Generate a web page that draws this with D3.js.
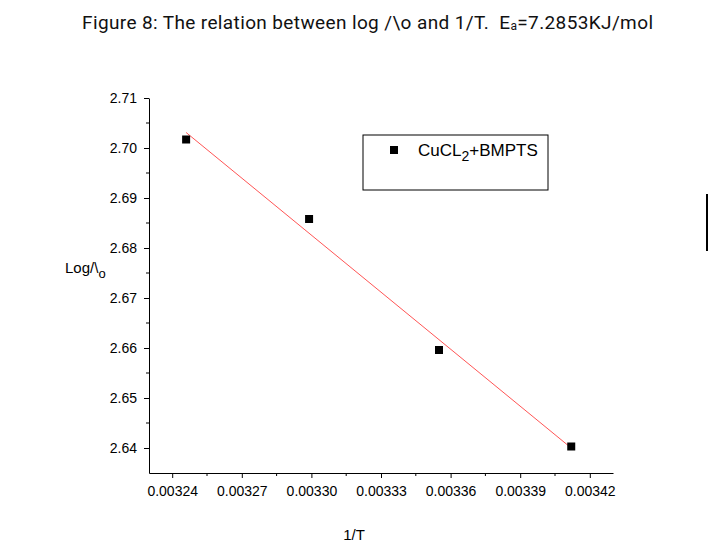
<!DOCTYPE html>
<html>
<head>
<meta charset="utf-8">
<script src="https://cdn.jsdelivr.net/npm/d3@7"></script>
<style>
  body { margin: 0; background: #fff; }
  svg { display: block; font-family: Arial, "Liberation Sans", sans-serif; }
</style>
</head>
<body>
<svg width="728" height="549"></svg>
<script>

// values
const invT = [0.003246, 0.003299, 0.003355, 0.003412];
const logL = [2.7017, 2.6858, 2.6596, 2.6403];
const fitX = [0.003246, 0.003412];
const fitY = [2.7031, 2.6400];
const xTicks = [0.00324, 0.00327, 0.00330, 0.00333, 0.00336, 0.00339, 0.00342];
const yTicks = [2.64, 2.65, 2.66, 2.67, 2.68, 2.69, 2.70, 2.71];

const svg = d3.select('svg');

const x = d3.scaleLinear()
  .domain([0.00323, 0.00343])
  .range([149, 613]);

const y = d3.scaleLinear()
  .domain([2.635, 2.71])
  .range([473, 98]);

// minor ticks halfway between majors
const xMinor = d3.range(xTicks.length + 1).map(i => xTicks[0] - 0.000015 + i * 0.00003);
const yMinor = d3.range(yTicks.length - 1).map(i => yTicks[0] + 0.005 + i * 0.01);

const xAxis = d3.axisBottom(x)
  .tickValues(xTicks)
  .tickFormat(d3.format('.5f'))
  .tickSizeInner(5)
  .tickSizeOuter(0);

const yAxis = d3.axisLeft(y)
  .tickValues(yTicks)
  .tickFormat(d3.format('.2f'))
  .tickSizeInner(5)
  .tickSizeOuter(0);

const gx = svg.append('g')
  .attr('transform', 'translate(0,473)')
  .call(xAxis);
gx.selectAll('text')
  .attr('font-size', 14)
  .attr('font-family', 'Arial, "Liberation Sans", sans-serif')
  .attr('dy', '1.05em')
  .attr('fill', '#000');

gx.selectAll('.minor')
  .data(xMinor.filter(v => x(v) > 150 && x(v) < 613))
  .enter().append('line')
  .attr('class', 'minor')
  .attr('x1', d => x(d)).attr('x2', d => x(d))
  .attr('y1', 0).attr('y2', 3)
  .attr('stroke', '#000');

const gy = svg.append('g')
  .attr('transform', 'translate(149,0)')
  .call(yAxis);
gy.selectAll('text')
  .attr('font-size', 14)
  .attr('font-family', 'Arial, "Liberation Sans", sans-serif')
  .attr('x', -12)
  .attr('fill', '#000');

gy.selectAll('.minor')
  .data(yMinor)
  .enter().append('line')
  .attr('class', 'minor')
  .attr('x1', 0).attr('x2', -3)
  .attr('y1', d => y(d)).attr('y2', d => y(d))
  .attr('stroke', '#000');

svg.selectAll('.domain').attr('stroke', '#000');

// fit line
svg.append('path')
  .datum(d3.zip(fitX, fitY))
  .attr('d', d3.line().x(d => x(d[0])).y(d => y(d[1])))
  .attr('stroke', '#ff5555')
  .attr('stroke-width', 1)
  .attr('fill', 'none');

// points
svg.selectAll('.pt')
  .data(d3.zip(invT, logL))
  .enter().append('rect')
  .attr('class', 'pt')
  .attr('x', d => x(d[0]) - 4)
  .attr('y', d => y(d[1]) - 4)
  .attr('width', 8)
  .attr('height', 8)
  .attr('fill', '#000');

// legend
const legend = svg.append('g').attr('transform', 'translate(363,135)');
legend.append('rect')
  .attr('width', 185).attr('height', 55)
  .attr('fill', 'none').attr('stroke', '#000');
legend.append('rect')
  .attr('x', 27).attr('y', 11).attr('width', 8).attr('height', 8)
  .attr('fill', '#000');
const lt = legend.append('text')
  .attr('x', 55).attr('y', 21)
  .attr('font-size', 17).attr('fill', '#000');
lt.append('tspan').text('CuCL');
lt.append('tspan').attr('font-size', 14).attr('dy', 5).text('2');
lt.append('tspan').attr('dy', -5).text('+BMPTS');

// axis titles
svg.append('text')
  .attr('x', 354).attr('y', 540)
  .attr('text-anchor', 'middle')
  .attr('font-size', 15)
  .text('1/T');

const yl = svg.append('text')
  .attr('x', 65).attr('y', 273)
  .attr('font-size', 15);
yl.append('tspan').text('Log/\\');
yl.append('tspan').attr('font-size', 13).attr('dy', 5).text('o');

// title
const title = svg.append('text')
  .attr('x', 82).attr('y', 29)
  .attr('font-family', 'Roboto, "Liberation Sans", sans-serif')
  .attr('font-size', 19)
  .attr('textLength', 571)
  .attr('lengthAdjust', 'spacing')
  .style('white-space', 'pre')
  .attr('fill', '#111');
title.append('tspan').text('Figure 8: The relation between log /\\o and 1/T.  E');
title.append('tspan').attr('font-size', 12).attr('dy', 1).text('a');
title.append('tspan').attr('dy', -1).text('=7.2853KJ/mol');

// stray mark at right edge
svg.append('line')
  .attr('x1', 707).attr('x2', 707)
  .attr('y1', 194).attr('y2', 251)
  .attr('stroke', '#000').attr('stroke-width', 2);

</script>
</body>
</html>
